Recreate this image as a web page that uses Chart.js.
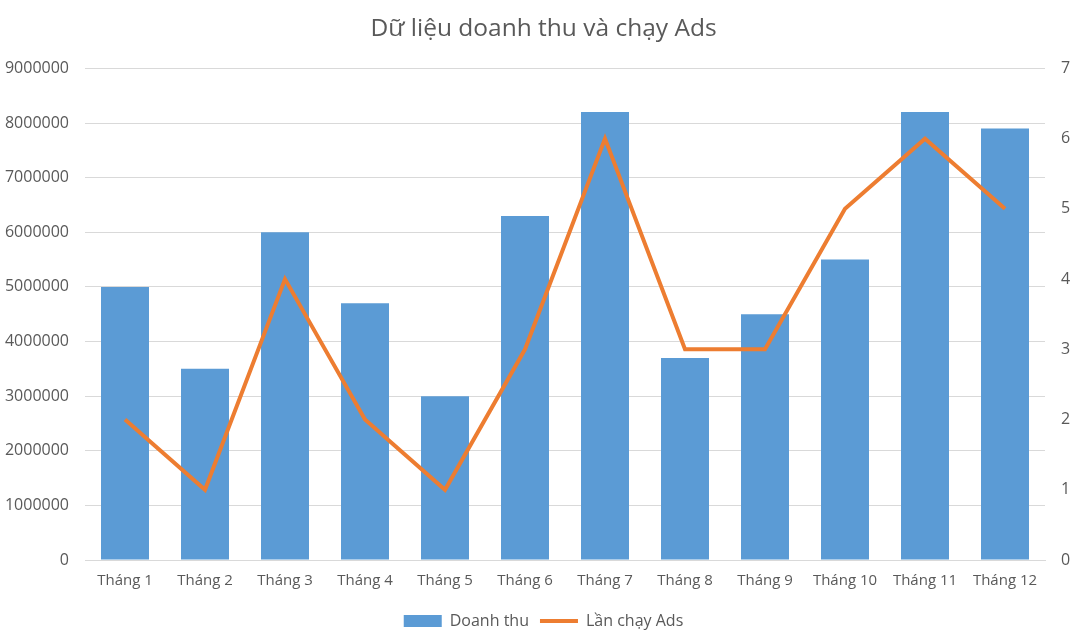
<!DOCTYPE html>
<html><head><meta charset="utf-8">
<script src="https://cdn.jsdelivr.net/npm/chart.js@4"></script>
<style>html,body{margin:0;padding:0;background:#fff;}#wrap{width:1083px;height:643px;}</style>
</head><body><div id="wrap"><canvas id="c"></canvas></div>
<script>
const categories = ["Tháng 1","Tháng 2","Tháng 3","Tháng 4","Tháng 5","Tháng 6","Tháng 7","Tháng 8","Tháng 9","Tháng 10","Tháng 11","Tháng 12"];
const revenue = [5000000,3500000,6000000,4700000,3000000,6300000,8200000,3700000,4500000,5500000,8200000,7900000];
const adsRuns = [2,1,4,2,1,3,6,3,3,5,6,5];
const titleText = "Dữ liệu doanh thu và chạy Ads";
const FONT = "'Open Sans', sans-serif";
Chart.defaults.font.family = FONT;
Chart.defaults.color = "#595959";
new Chart(document.getElementById('c'), {
  data: {
    labels: categories,
    datasets: [
      {type:'line', label:'Lần chạy Ads', data: adsRuns, yAxisID:'y1', borderColor:'#ED7D31', backgroundColor:'#ED7D31', borderWidth:4, pointRadius:0, tension:0, order:0},
      {type:'bar', label:'Doanh thu', data: revenue, yAxisID:'y', backgroundColor:'#5B9BD5', barPercentage:0.6, categoryPercentage:1.0, order:1}
    ]
  },
  options: {
    responsive:true, maintainAspectRatio:false, animation:false,
    layout:{padding:{left:4,right:0,top:10,bottom:4}},
    plugins:{
      title:{display:true, text:titleText, font:{size:24.5, family:FONT, weight:'normal'}, color:'#595959', padding:{top:4,bottom:25}},
      legend:{position:'bottom', labels:{
        font:{size:16}, color:'#595959', usePointStyle:true, padding:11,
        generateLabels(chart){
          const ds = chart.data.datasets;
          return [
            {text:ds[1].label, fillStyle:'#5B9BD5', strokeStyle:'#5B9BD5', lineWidth:0, pointStyle:'rect', datasetIndex:1, fontColor:'#595959'},
            {text:ds[0].label, fillStyle:'#ED7D31', strokeStyle:'#ED7D31', lineWidth:4, pointStyle:'line', datasetIndex:0, fontColor:'#595959'}
          ];
        },
        pointStyleWidth:38, boxHeight:12
      }},
      tooltip:{enabled:false}
    },
    scales:{
      x:{grid:{display:false, drawTicks:false}, border:{color:'#d9d9d9', width:1}, ticks:{font:{size:15}, color:'#595959', padding:12}},
      y:{position:'left', min:0, max:9000000, afterFit:s=>{s.width=81;}, ticks:{stepSize:1000000, font:{size:16}, color:'#595959', padding:16, callback:v=>String(v)}, grid:{color:'#d9d9d9', drawTicks:false}, border:{display:false}},
      y1:{position:'right', min:0, max:7, afterFit:s=>{s.width=38;}, ticks:{stepSize:1, font:{size:16}, color:'#595959', padding:16, callback:v=>String(v)}, grid:{display:false, drawTicks:false}, border:{display:false}}
    }
  }
});
</script></body></html>
